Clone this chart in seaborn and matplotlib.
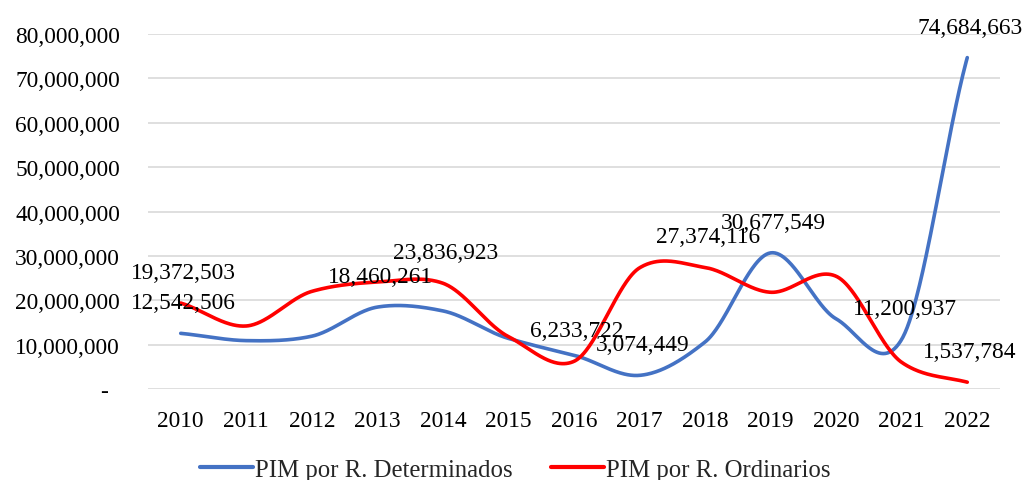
import numpy as np
import pandas as pd
import matplotlib
matplotlib.use("Agg")
import matplotlib.pyplot as plt
import seaborn as sns
from matplotlib.lines import Line2D

years = ["2010", "2011", "2012", "2013", "2014", "2015", "2016",
         "2017", "2018", "2019", "2020", "2021", "2022"]
determinados = [12542506, 10900000, 11900000, 18460261, 17600000, 11400000, 7600000,
                3074449, 10600000, 30677549, 15800000, 11200937, 74684663]
ordinarios = [19372503, 14200000, 22000000, 24100000, 23836923, 11800000, 6233722,
              27300000, 27374116, 21800000, 25400000, 6000000, 1537784]
# data labels shown on the chart (year indices)
labels_det = [0, 3, 7, 9, 11, 12]
labels_ord = [0, 4, 6, 8, 12]

sns.set_theme(style="white")
plt.rcParams['font.family'] = ['Liberation Serif', 'DejaVu Serif']

BLUE = "#4472C4"
RED = "#FF0000"
FS = 16.8


def smooth(vals, n=60, tension=0.85):
    p = np.asarray(vals, dtype=float)
    pe = np.concatenate([[p[0]], p, [p[-1]]])
    xs, ys = [], []
    for i in range(len(p) - 1):
        p0, p1, p2, p3 = pe[i], pe[i + 1], pe[i + 2], pe[i + 3]
        m1 = tension * (p2 - p0) / 2.0
        m2 = tension * (p3 - p1) / 2.0
        if i == 0:
            m1 = tension * (p2 - p1)
        if i == len(p) - 2:
            m2 = tension * (p2 - p1)
        t = np.linspace(0, 1, n, endpoint=(i == len(p) - 2))
        h00 = 2 * t**3 - 3 * t**2 + 1
        h10 = t**3 - 2 * t**2 + t
        h01 = -2 * t**3 + 3 * t**2
        h11 = t**3 - t**2
        xs.append(i + t)
        ys.append(h00 * p1 + h10 * m1 + h01 * p2 + h11 * m2)
    return np.concatenate(xs), np.concatenate(ys)


fig = plt.figure(figsize=(10.26, 4.81), dpi=100)
ax = fig.add_axes([0.1442, 0.1892, 0.8305, 0.738])

xd, yd = smooth(determinados)
xo, yo = smooth(ordinarios)
df = pd.concat([
    pd.DataFrame({"x": xd, "y": yd, "s": "PIM por R. Determinados"}),
    pd.DataFrame({"x": xo, "y": yo, "s": "PIM por R. Ordinarios"}),
])
sns.lineplot(data=df, x="x", y="y", hue="s", sort=False, estimator=None,
             palette=[BLUE, RED], linewidth=2.6, ax=ax, legend=False)

for i in labels_det:
    ax.annotate(f"{determinados[i]:,}", (i, determinados[i]), xytext=(2, 22),
                textcoords="offset points", ha="center", va="center",
                fontsize=FS, color="black")
for i in labels_ord:
    ax.annotate(f"{ordinarios[i]:,}", (i, ordinarios[i]), xytext=(2, 22),
                textcoords="offset points", ha="center", va="center",
                fontsize=FS, color="black")

ax.set_xlim(-0.5, len(years) - 0.5)
ax.set_ylim(0, 80000000)
ax.set_xticks(range(len(years)))
ax.set_xticklabels(years)
yt = np.arange(0, 80000001, 10000000)
ax.set_yticks(yt)
ax.set_yticklabels(["-  " if v == 0 else f"{int(v):,}" for v in yt])
ax.tick_params(axis="y", length=0, pad=20, labelsize=FS, labelcolor="black")
ax.tick_params(axis="x", length=0, pad=15, labelsize=FS, labelcolor="black")
ax.grid(axis="y", color="#d9d9d9", linewidth=1.2)
ax.grid(axis="x", visible=False)
for s in ax.spines.values():
    s.set_visible(False)
ax.set_xlabel("")
ax.set_ylabel("")

handles = [Line2D([], [], color=BLUE, linewidth=3.0),
           Line2D([], [], color=RED, linewidth=3.0)]
fig.legend(handles, ["PIM por R. Determinados", "PIM por R. Ordinarios"],
           loc="center", bbox_to_anchor=(0.502, 0.021), ncol=2, frameon=False,
           fontsize=17.8, handlelength=2.15, handletextpad=0.08, columnspacing=1.55,
           borderpad=0, borderaxespad=0)

fig.savefig("out.png", dpi=100)
